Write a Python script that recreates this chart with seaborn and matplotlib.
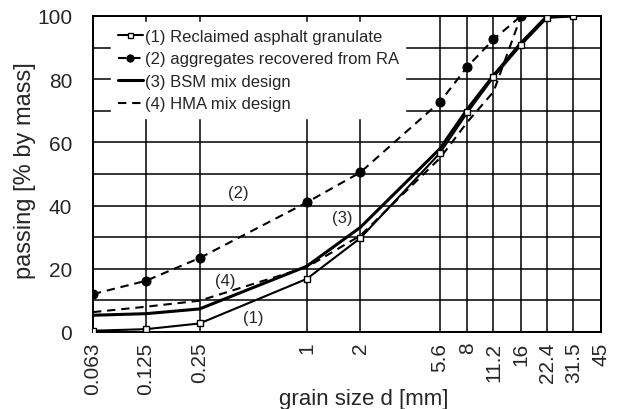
import numpy as np
import pandas as pd
import matplotlib
matplotlib.use("Agg")
import matplotlib.pyplot as plt
import seaborn as sns

sieves = [0.063, 0.125, 0.25, 1, 2, 5.6, 8, 11.2, 16, 22.4, 31.5, 45]
tick_labels = ["0.063", "0.125", "0.25", "1", "2", "5.6", "8", "11.2", "16", "22.4", "31.5", "45"]

x_ra = [0.063, 0.125, 0.25, 1, 2, 5.6, 8, 11.2, 16, 22.4, 31.5]
y_ra = [0.4, 0.9, 2.7, 16.8, 29.7, 56.6, 69.5, 80.6, 90.8, 99.4, 99.9]

x_agg = [0.063, 0.125, 0.25, 1, 2, 5.6, 8, 11.2, 16]
y_agg = [12.0, 16.2, 23.4, 41.0, 50.5, 72.8, 84.0, 92.6, 100.0]

x_bsm = [0.063, 0.125, 0.25, 1, 2, 5.6, 8, 11.2, 16, 22.4, 31.5]
y_bsm = [5.3, 5.8, 7.3, 20.8, 33.1, 58.0, 70.6, 81.2, 91.5, 100.0, 100.0]

x_hma = [0.063, 0.125, 0.25, 1, 2, 5.6, 8, 11.2, 16]
y_hma = [6.3, 8.0, 9.9, 20.5, 30.5, 55.0, 66.5, 76.0, 100.0]

labels = ["(1) Reclaimed asphalt granulate", "(2) aggregates recovered from RA",
          "(3) BSM mix design", "(4) HMA mix design"]

sns.set_style("white")
plt.rcParams['font.family'] = ['Liberation Sans', 'DejaVu Sans']

fig = plt.figure(figsize=(6.21, 4.10), dpi=100)
ax = fig.add_axes([93/621, 1-333/410, (601-93)/621, (333-17)/410])

dash = (0, (4, 2.8))
sns.lineplot(x=x_ra, y=y_ra, ax=ax, color="black", lw=1.5, marker="s", markersize=4.5,
             markerfacecolor="white", markeredgecolor="black", markeredgewidth=1.0,
             label=labels[0], zorder=5)
sns.lineplot(x=x_agg, y=y_agg, ax=ax, color="black", lw=1.5, linestyle=dash, marker="o",
             markersize=6.5, markerfacecolor="black", markeredgecolor="black",
             label=labels[1], zorder=5)
sns.lineplot(x=x_bsm, y=y_bsm, ax=ax, color="black", lw=2.2, label=labels[2], zorder=4)
sns.lineplot(x=x_hma, y=y_hma, ax=ax, color="black", lw=1.5, linestyle=dash,
             label=labels[3], zorder=4)

ax.set_xscale("log")
ax.set_xlim(0.063, 45)
ax.set_ylim(0, 100)
ax.set_xticks(sieves)
ax.set_xticklabels(tick_labels, rotation=90, fontsize=15)
ax.minorticks_off()
ax.set_yticks(np.arange(0, 101, 10))
ax.set_yticklabels([str(v) if v % 20 == 0 else "" for v in range(0, 101, 10)], fontsize=15)
ax.tick_params(axis="x", length=0, pad=7)
ax.tick_params(axis="y", length=0, pad=15)
ax.grid(True, color="black", lw=1.1)
ax.set_axisbelow(True)
for s in ax.spines.values():
    s.set_color("black")
    s.set_linewidth(1.4)

ax.set_xlabel("grain size d [mm]", fontsize=16)
ax.xaxis.set_label_coords(0.533, -0.209)
ax.xaxis.label.set_va("center")
ax.set_ylabel("passing [% by mass]", fontsize=17)
ax.yaxis.set_label_coords(-0.134, 0.513)
ax.yaxis.label.set_va("center")

ax.text(0.411, 44.3, "(2)", fontsize=12, ha="center", va="center")
ax.text(1.59, 36.1, "(3)", fontsize=12, ha="center", va="center")
ax.text(0.348, 16.2, "(4)", fontsize=12, ha="center", va="center")
ax.text(0.499, 4.7, "(1)", fontsize=12, ha="center", va="center")

leg = ax.legend(loc="upper left", bbox_to_anchor=(0.036, 0.98), fontsize=12, frameon=True,
                handlelength=1.5, handletextpad=0.1, labelspacing=0.45, borderpad=0.4,
                fancybox=False, borderaxespad=0, markerscale=0.8)
leg.get_frame().set_edgecolor("white")
leg.get_frame().set_facecolor("white")
leg.get_frame().set_alpha(1)
leg.set_zorder(10)

fig.savefig("out.png", dpi=100)
